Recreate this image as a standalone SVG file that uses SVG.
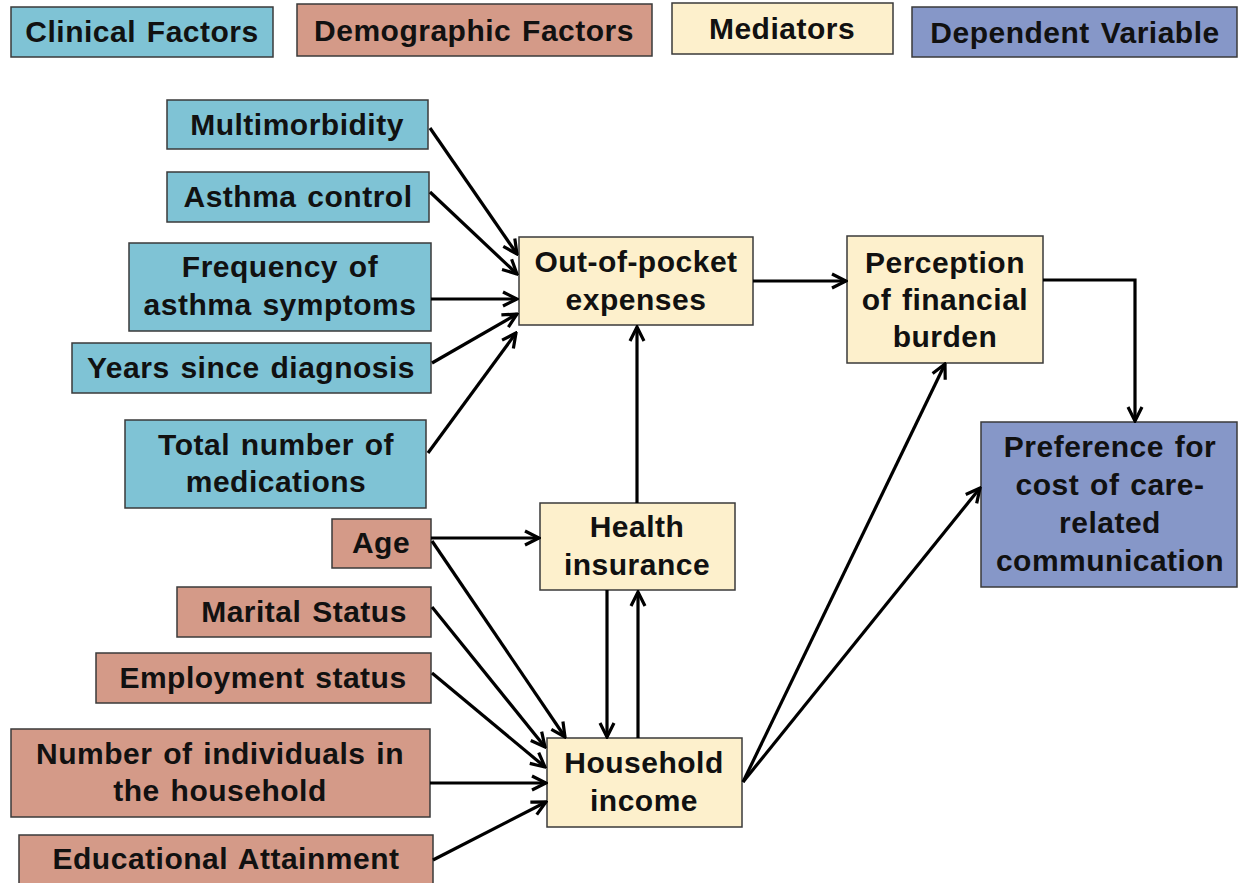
<svg xmlns="http://www.w3.org/2000/svg" width="1241" height="883" viewBox="0 0 1241 883">
<style>
.box{stroke:#3a3a3a;stroke-width:1.5}
.clin{fill:#7fc3d5}
.demo{fill:#d49a88}
.med{fill:#fdf0cc}
.dep{fill:#8697c8}
text{font-family:"Liberation Sans",Arial,sans-serif;font-weight:bold;font-size:30px;letter-spacing:0.5px;word-spacing:2px;fill:#111;text-anchor:middle}
.c{fill:none;stroke:#000;stroke-width:3.2}
</style>
<defs>
<marker id="ah" viewBox="0 0 18 18" refX="16" refY="9" markerWidth="18" markerHeight="18" markerUnits="userSpaceOnUse" orient="auto">
<path d="M2,2 L16,9 L2,16" fill="none" stroke="#000" stroke-width="3.2"/>
</marker>
</defs>
<rect width="1241" height="883" fill="#fff"/>

<g id="legend-clinical"><rect class="box clin" x="11" y="7" width="262" height="50"/><text x="142" y="42">Clinical Factors</text></g>
<g id="legend-demographic"><rect class="box demo" x="297" y="4" width="355" height="52"/><text x="474" y="41">Demographic Factors</text></g>
<g id="legend-mediators"><rect class="box med" x="672" y="3" width="221" height="51"/><text x="782" y="39">Mediators</text></g>
<g id="legend-dependent"><rect class="box dep" x="912" y="7" width="325" height="50"/><text x="1075" y="43">Dependent Variable</text></g>

<g id="multimorbidity"><rect class="box clin" x="167" y="100" width="261" height="49"/><text x="297" y="135">Multimorbidity</text></g>
<g id="asthma-control"><rect class="box clin" x="167" y="172" width="262" height="50"/><text x="298" y="207">Asthma control</text></g>
<g id="frequency"><rect class="box clin" x="129" y="243" width="302" height="88"/><text x="280" y="277">Frequency of</text><text x="280" y="315">asthma symptoms</text></g>
<g id="years"><rect class="box clin" x="72" y="343" width="359" height="50"/><text x="251" y="378">Years since diagnosis</text></g>
<g id="total-meds"><rect class="box clin" x="125" y="420" width="301" height="88"/><text x="276" y="455">Total number of</text><text x="276" y="492">medications</text></g>

<g id="age"><rect class="box demo" x="332" y="519" width="99" height="49"/><text x="381" y="553">Age</text></g>
<g id="marital"><rect class="box demo" x="177" y="587" width="254" height="50"/><text x="304" y="622">Marital Status</text></g>
<g id="employment"><rect class="box demo" x="96" y="653" width="335" height="50"/><text x="263" y="688">Employment status</text></g>
<g id="household-size"><rect class="box demo" x="11" y="729" width="419" height="88"/><text x="220" y="764">Number of individuals in</text><text x="220" y="801">the household</text></g>
<g id="education"><rect class="box demo" x="19" y="835" width="414" height="60"/><text x="226" y="869">Educational Attainment</text></g>

<g id="out-of-pocket"><rect class="box med" x="519" y="237" width="234" height="88"/><text x="636" y="272">Out-of-pocket</text><text x="636" y="310">expenses</text></g>
<g id="perception"><rect class="box med" x="847" y="236" width="196" height="127"/><text x="945" y="273">Perception</text><text x="945" y="310">of financial</text><text x="945" y="347">burden</text></g>
<g id="health-insurance"><rect class="box med" x="540" y="503" width="195" height="87"/><text x="637" y="537">Health</text><text x="637" y="575">insurance</text></g>
<g id="household-income"><rect class="box med" x="547" y="738" width="195" height="89"/><text x="644" y="773">Household</text><text x="644" y="811">income</text></g>
<g id="preference"><rect class="box dep" x="981" y="422" width="256" height="165"/><text x="1110" y="457">Preference for</text><text x="1110" y="495">cost of care-</text><text x="1110" y="533">related</text><text x="1110" y="571">communication</text></g>

<g id="connectors">
<line class="c" x1="430" y1="128" x2="517" y2="254" marker-end="url(#ah)"/>
<line class="c" x1="430" y1="192" x2="517" y2="274" marker-end="url(#ah)"/>
<line class="c" x1="431" y1="299" x2="517" y2="299" marker-end="url(#ah)"/>
<line class="c" x1="432" y1="363" x2="517" y2="314" marker-end="url(#ah)"/>
<line class="c" x1="428" y1="453" x2="516" y2="333" marker-end="url(#ah)"/>
<line class="c" x1="753" y1="281" x2="846" y2="281" marker-end="url(#ah)"/>
<polyline class="c" points="1043,280 1135,280 1135,421" marker-end="url(#ah)"/>
<line class="c" x1="637" y1="503" x2="637" y2="327" marker-end="url(#ah)"/>
<line class="c" x1="431" y1="538" x2="539" y2="538" marker-end="url(#ah)"/>
<line class="c" x1="432" y1="541" x2="565" y2="737" marker-end="url(#ah)"/>
<line class="c" x1="432" y1="607" x2="545" y2="747" marker-end="url(#ah)"/>
<line class="c" x1="432" y1="673" x2="545" y2="767" marker-end="url(#ah)"/>
<line class="c" x1="430" y1="783" x2="546" y2="783" marker-end="url(#ah)"/>
<line class="c" x1="433" y1="860" x2="546" y2="802" marker-end="url(#ah)"/>
<line class="c" x1="607" y1="590" x2="607" y2="737" marker-end="url(#ah)"/>
<line class="c" x1="638" y1="738" x2="638" y2="592" marker-end="url(#ah)"/>
<line class="c" x1="743" y1="782" x2="945" y2="364" marker-end="url(#ah)"/>
<line class="c" x1="743" y1="782" x2="980" y2="488" marker-end="url(#ah)"/>
</g>
</svg>
